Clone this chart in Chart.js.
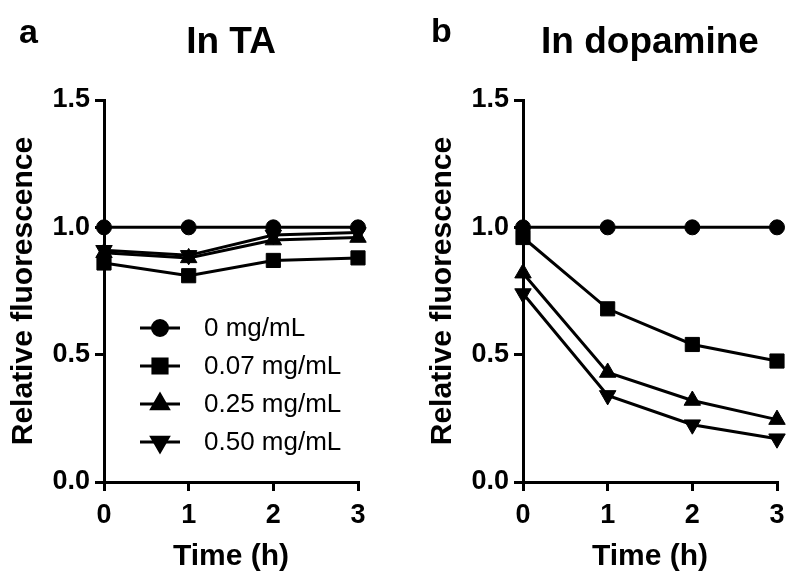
<!DOCTYPE html>
<html lang="en">
<head>
  <meta charset="UTF-8">
  <title>Relative fluorescence</title>
  <script src="https://cdn.jsdelivr.net/npm/chart.js"></script>
  <style>
    body { margin: 0; background: #fff; }
    #wrap { position: relative; width: 798px; height: 585px; }
    #chartA { position: absolute; left: 0; top: 0; }
    #chartB { position: absolute; left: 419px; top: 0; }
  </style>
</head>
<body>
  <div id="wrap">
    <canvas id="chartA" width="399" height="585"></canvas>
    <canvas id="chartB" width="379" height="585"></canvas>
  </div>

  <script>
    const times = [0, 1, 2, 3];
    const yTicks = [0, 0.5, 1.0, 1.5];
    const seriesNames = ["0 mg/mL", "0.07 mg/mL", "0.25 mg/mL", "0.50 mg/mL"];

    // In TA
    const ta0 = [1.0, 1.0, 1.0, 1.0];
    const ta007 = [0.86, 0.81, 0.87, 0.88];
    const ta025 = [0.90, 0.88, 0.95, 0.96];
    const ta050 = [0.91, 0.89, 0.97, 0.98];

    // In dopamine
    const dp0 = [1.0, 1.0, 1.0, 1.0];
    const dp007 = [0.96, 0.68, 0.54, 0.475];
    const dp025 = [0.82, 0.43, 0.32, 0.245];
    const dp050 = [0.74, 0.34, 0.225, 0.17];

    const markers = [
      { pointStyle: "circle", radius: 7.5, rotation: 0 },
      { pointStyle: "rect", radius: 10, rotation: 0 },
      { pointStyle: "triangle", radius: 9.5, rotation: 0 },
      { pointStyle: "triangle", radius: 9.5, rotation: 180 }
    ];

    function makeDatasets(all) {
      return all.map((vals, i) => ({
        label: seriesNames[i],
        data: times.map((t, j) => ({ x: t, y: vals[j] })),
        borderColor: "#000",
        backgroundColor: "#000",
        borderWidth: 3,
        pointStyle: markers[i].pointStyle,
        pointRadius: markers[i].radius,
        pointRotation: markers[i].rotation,
        pointBorderWidth: 1,
        pointBackgroundColor: "#000",
        pointBorderColor: "#000",
        tension: 0,
        clip: false
      }));
    }

    // panel letter a / b
    const letterPlugin = {
      id: "panelLetter",
      afterDraw(chart, args, opts) {
        const ctx = chart.ctx;
        ctx.save();
        ctx.fillStyle = "#000";
        ctx.font = "bold 34px 'Liberation Sans', Arial, sans-serif";
        ctx.textBaseline = "alphabetic";
        ctx.textAlign = "left";
        ctx.fillText(opts.text, opts.x, opts.y);
        ctx.restore();
      }
    };

    // legend inside the plot area of panel a
    const insideLegend = {
      id: "insideLegend",
      afterDraw(chart, args, opts) {
        if (!opts.show) return;
        const ctx = chart.ctx;
        ctx.save();
        ctx.font = "26px 'Liberation Sans', Arial, sans-serif";
        ctx.textBaseline = "middle";
        ctx.textAlign = "left";
        chart.data.datasets.forEach((ds, i) => {
          const y = opts.top + i * opts.step;
          ctx.strokeStyle = "#000";
          ctx.lineWidth = 3;
          ctx.beginPath();
          ctx.moveTo(opts.left, y);
          ctx.lineTo(opts.left + 40, y);
          ctx.stroke();
          ctx.fillStyle = "#000";
          Chart.helpers.drawPoint(ctx, {
            pointStyle: markers[i].pointStyle,
            radius: markers[i].radius,
            rotation: markers[i].rotation,
            borderWidth: 1
          }, opts.left + 20, y);
          ctx.fillStyle = "#000";
          ctx.fillText(ds.label, opts.left + 64, y + 1);
        });
        ctx.restore();
      }
    };

    function makeChart(id, title, all, letter, legendOn, rightPad) {
      return new Chart(document.getElementById(id).getContext("2d"), {
        type: "line",
        data: { datasets: makeDatasets(all) },
        options: {
          responsive: false,
          animation: false,
          layout: { padding: { left: 0, right: rightPad, top: 0, bottom: 0 } },
          plugins: {
            legend: { display: false },
            tooltip: { enabled: false },
            title: {
              display: true,
              text: title,
              fullSize: false,
              color: "#000",
              font: { family: "'Liberation Sans', Arial, sans-serif", size: 37, weight: "bold", lineHeight: 1.2 },
              padding: { top: 21, bottom: 34.6 }
            },
            panelLetter: letter,
            insideLegend: { show: legendOn, left: 140, top: 328, step: 38 }
          },
          scales: {
            x: {
              type: "linear",
              min: 0,
              max: 3,
              afterFit: s => { s.height = 103; },
              afterBuildTicks: s => { s.ticks = times.map(v => ({ value: v })); },
              border: { display: true, color: "#000", width: 3 },
              grid: { drawOnChartArea: false, drawTicks: true, tickLength: 9, color: "#000", lineWidth: 3 },
              ticks: {
                color: "#000",
                padding: 8,
                maxRotation: 0,
                font: { family: "'Liberation Sans', Arial, sans-serif", size: 27, weight: "bold" },
                callback: v => String(v)
              },
              title: {
                display: true,
                text: "Time (h)",
                color: "#000",
                font: { family: "'Liberation Sans', Arial, sans-serif", size: 30, weight: "bold", lineHeight: 1 },
                padding: { top: 0, bottom: 13 }
              }
            },
            y: {
              min: 0,
              max: 1.5,
              afterFit: s => { s.width = 104; },
              afterBuildTicks: s => { s.ticks = yTicks.map(v => ({ value: v })); },
              border: { display: true, color: "#000", width: 3 },
              grid: { drawOnChartArea: false, drawTicks: true, tickLength: 9, color: "#000", lineWidth: 3 },
              ticks: {
                color: "#000",
                padding: 5,
                font: { family: "'Liberation Sans', Arial, sans-serif", size: 27, weight: "bold" },
                callback: v => Number(v).toFixed(1)
              },
              title: {
                display: true,
                text: "Relative fluorescence",
                color: "#000",
                font: { family: "'Liberation Sans', Arial, sans-serif", size: 30, weight: "bold", lineHeight: 1 },
                padding: { top: 9, bottom: 0 }
              }
            }
          }
        },
        plugins: [letterPlugin, insideLegend]
      });
    }

    makeChart("chartA", "In TA", [ta0, ta007, ta025, ta050], { text: "a", x: 19, y: 43 }, true, 41);
    makeChart("chartB", "In dopamine", [dp0, dp007, dp025, dp050], { text: "b", x: 12, y: 42 }, false, 21);
  </script>
</body>
</html>
